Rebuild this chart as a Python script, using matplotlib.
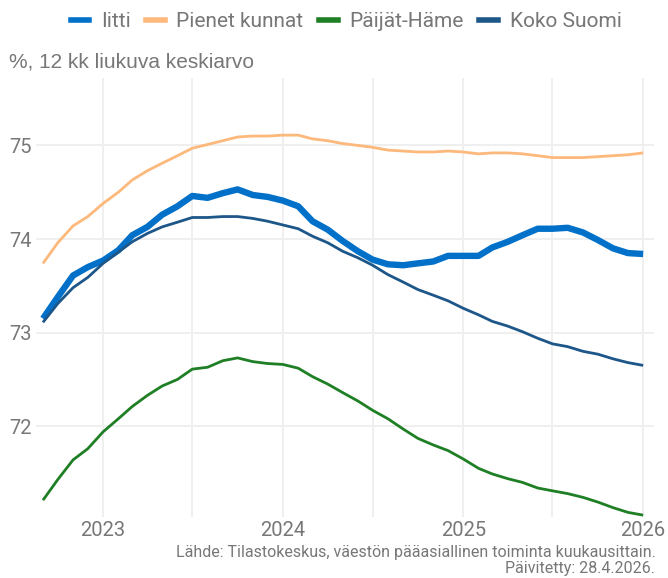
import pandas as pd
import matplotlib.pyplot as plt
import matplotlib.dates as mdates
from matplotlib.lines import Line2D

# Kuukaudet 9/2022 - 1/2026
months = pd.date_range("2022-09-01", "2026-01-01", freq="MS")

iitti = [73.15, 73.38, 73.61, 73.70,
         73.77, 73.88, 74.04, 74.13, 74.26, 74.35, 74.46, 74.44, 74.49, 74.53, 74.47, 74.45,
         74.41, 74.35, 74.19, 74.10, 73.98, 73.87, 73.78, 73.73, 73.72, 73.74, 73.76, 73.82,
         73.82, 73.82, 73.91, 73.97, 74.04, 74.11, 74.11, 74.12, 74.07, 73.99, 73.90, 73.85,
         73.84]
pienet_kunnat = [73.74, 73.96, 74.14, 74.24,
                 74.38, 74.50, 74.63, 74.73, 74.81, 74.89, 74.97, 75.01, 75.05, 75.09, 75.10, 75.10,
                 75.11, 75.11, 75.07, 75.05, 75.02, 75.00, 74.98, 74.95, 74.94, 74.93, 74.93, 74.94,
                 74.93, 74.91, 74.92, 74.92, 74.91, 74.89, 74.87, 74.87, 74.87, 74.88, 74.89, 74.90,
                 74.92]
paijat_hame = [71.21, 71.43, 71.64, 71.76,
               71.94, 72.08, 72.21, 72.33, 72.43, 72.50, 72.61, 72.63, 72.70, 72.73, 72.69, 72.67,
               72.66, 72.62, 72.53, 72.45, 72.36, 72.27, 72.17, 72.08, 71.97, 71.87, 71.80, 71.74,
               71.65, 71.55, 71.49, 71.44, 71.40, 71.34, 71.31, 71.28, 71.24, 71.19, 71.13, 71.08,
               71.05]
koko_suomi = [73.11, 73.31, 73.48, 73.59,
              73.74, 73.86, 73.97, 74.06, 74.13, 74.18, 74.23, 74.23, 74.24, 74.24, 74.22, 74.19,
              74.15, 74.11, 74.03, 73.96, 73.87, 73.80, 73.72, 73.62, 73.54, 73.46, 73.40, 73.34,
              73.26, 73.19, 73.12, 73.07, 73.01, 72.94, 72.88, 72.85, 72.80, 72.77, 72.72, 72.68,
              72.65]

series = [
    ("Iitti", iitti, "#0070c9", 4.6),
    ("Pienet kunnat", pienet_kunnat, "#fdb87b", 2.0),
    ("Päijät-Häme", paijat_hame, "#1e7f24", 2.0),
    ("Koko Suomi", koko_suomi, "#1d5689", 2.0),
]

grey = "#777777"

fig = plt.figure(figsize=(6.68, 5.78), dpi=100)
ax = fig.add_axes([0.054, 0.1055, 0.925, 0.7595])

for name, vals, col, lw in series:
    ax.plot(months, vals, color=col, linewidth=lw, solid_capstyle="butt",
            solid_joinstyle="round", label=name)

ax.set_xlim(pd.Timestamp("2022-08-18"), pd.Timestamp("2026-01-23"))
ax.set_ylim(71.03, 75.72)
ax.set_yticks([72, 73, 74, 75])
ax.xaxis.set_major_locator(mdates.YearLocator())
ax.xaxis.set_major_formatter(mdates.DateFormatter("%Y"))
ax.xaxis.set_minor_locator(mdates.MonthLocator(bymonth=7))

ax.grid(True, which="both", color="#efefef", linewidth=1.4)
ax.set_axisbelow(True)
for s in ax.spines.values():
    s.set_visible(False)
ax.tick_params(which="both", length=0)
ax.tick_params(axis="x", pad=3, labelsize=14.5, labelcolor=grey)
ax.tick_params(axis="y", pad=3, labelsize=14.5, labelcolor=grey)
for lab in ax.get_xticklabels() + ax.get_yticklabels():
    lab.set_family("Roboto")

handles = [Line2D([0], [0], color=c, linewidth=4) for _, _, c, _ in series]
leg = fig.legend(handles, [s[0] for s in series], loc="center", ncol=4,
                 bbox_to_anchor=(0.518, 0.963), frameon=False, handlelength=0.9,
                 handletextpad=0.55, columnspacing=0.75,
                 prop={"family": "Roboto", "size": 15})
for t in leg.get_texts():
    t.set_color(grey)

fig.text(0.013, 0.893, "%, 12 kk liukuva keskiarvo", family="Liberation Sans",
         fontsize=15, color=grey, va="center")

fig.text(0.981, 0.044, "Lähde: Tilastokeskus, väestön pääasiallinen toiminta kuukausittain.",
         ha="right", va="center", family="Roboto", fontsize=11.5, color=grey)
fig.text(0.981, 0.016, "Päivitetty: 28.4.2026.", ha="right", va="center",
         family="Roboto", fontsize=11.5, color=grey)

fig.savefig("out.png", dpi=100)
